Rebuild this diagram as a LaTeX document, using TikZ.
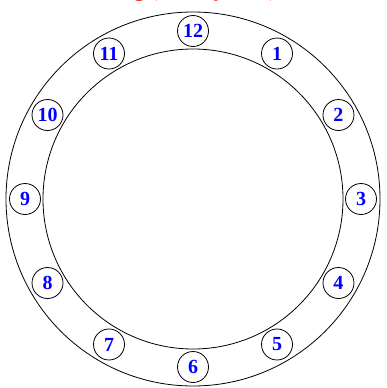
\documentclass[tikz,border=0pt]{standalone}
\usepackage{fontspec}
\setmainfont{Liberation Serif}
\usetikzlibrary{calc}
\begin{document}
\begin{tikzpicture}[x=1pt,y=-1pt,
  ring/.style={draw=black,line width=0.8pt},
  hour/.style={circle,draw=black,line width=0.8pt,minimum size=31pt,inner sep=0pt,
    text=blue,font=\fontsize{20}{20}\selectfont\bfseries},
  title/.style={text=red,font=\fontsize{22}{22}\selectfont\bfseries,inner sep=0pt,anchor=base east}]
\useasboundingbox (0,0) rectangle (386,388);
\coordinate (c) at (193,199);
\node[title] (t) at (277,-3) {Timing (Hourly Dial)};
\draw[ring] (c) circle[radius=187];
\draw[ring] (c) circle[radius=150];
\foreach \n in {1,...,12}{
  \node[hour] (h\n) at ($(c)+({168*cos(90-30*\n)},{-168*sin(90-30*\n)})$) {\n};
}
\end{tikzpicture}
\end{document}
